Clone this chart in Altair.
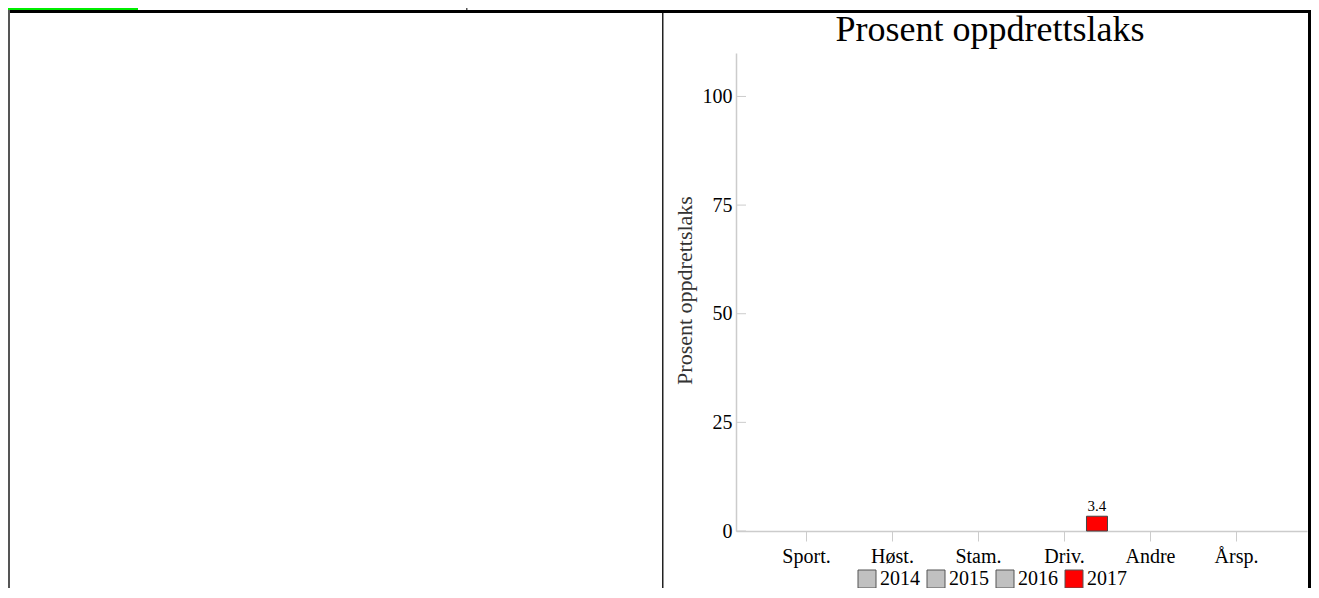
import altair as alt
import pandas as pd

# ---- data ----
categories = ["Sport.", "Høst.", "Stam.", "Driv.", "Andre", "Årsp."]
years = ["2014", "2015", "2016", "2017"]
year_colors = ["#c0c0c0", "#c0c0c0", "#c0c0c0", "#ff0000"]
bar_categories = ["Driv."]
bar_years = ["2017"]
bar_values = [3.4]
y_ticks = [0, 25, 50, 75, 100]
title_text = "Prosent oppdrettslaks"

FONT = "Liberation Serif"

bars_df = pd.DataFrame({"Kategori": bar_categories, "År": bar_years, "Prosent": bar_values})
ticks_df = pd.DataFrame({"v": y_ticks})

W, H = 571, 478            # plot area
PL, PT = 728, 45           # plot origin inside the svg
TOTAL_W, TOTAL_H = 1303, 580

x_enc = alt.X("Kategori:N",
              scale=alt.Scale(domain=categories, paddingInner=0, paddingOuter=0.32),
              axis=alt.Axis(title=None, labelAngle=0, labelFont=FONT, labelFontSize=20,
                            labelColor="black", labelPadding=5, tickSize=10,
                            tickColor="#cccccc", domainColor="#cccccc", domainWidth=1.5,
                            labelFontWeight="normal"))
y_scale = alt.Scale(domain=[0, 110], nice=False)
y_axis = alt.Axis(values=y_ticks, ticks=False, grid=False, labelFont=FONT, labelFontSize=20,
                  labelColor="black", labelPadding=4, domainColor="#cccccc", domainWidth=1.5,
                  title=title_text, titleFont=FONT, titleFontSize=22, titleFontWeight="normal",
                  titleColor="#333333", titleX=-45, titleY=237, titleAngle=270,
                  titleBaseline="alphabetic", titleAlign="center")

bars = alt.Chart(bars_df).mark_bar(stroke="#444444", strokeWidth=1).encode(
    x=x_enc,
    xOffset=alt.XOffset("År:N", scale=alt.Scale(domain=years, paddingInner=0.03)),
    y=alt.Y("Prosent:Q", scale=y_scale, axis=y_axis),
    color=alt.Color("År:N",
                    scale=alt.Scale(domain=years, range=year_colors),
                    legend=alt.Legend(title=None, orient="none", direction="horizontal",
                                      legendX=121, legendY=516, symbolType="square",
                                      symbolSize=324, symbolStrokeColor="#555555",
                                      symbolStrokeWidth=1, symbolOpacity=1,
                                      labelFont=FONT, labelFontSize=20, labelColor="black",
                                      labelOffset=3, columnPadding=5, padding=0)),
)

labels = alt.Chart(bars_df).mark_text(font=FONT, fontSize=15, color="black",
                                      baseline="alphabetic", dy=-5).encode(
    x=alt.X("Kategori:N", scale=alt.Scale(domain=categories, paddingInner=0, paddingOuter=0.32)),
    xOffset=alt.XOffset("År:N", scale=alt.Scale(domain=years, paddingInner=0.03)),
    y=alt.Y("Prosent:Q", scale=y_scale),
    text=alt.Text("Prosent:Q", format=".1f"),
)

yticks = alt.Chart(ticks_df).mark_rule(color="#cccccc", strokeWidth=1).encode(
    y=alt.Y("v:Q", scale=y_scale),
    x=alt.value(0),
    x2=alt.value(10),
)

one = alt.Data(values=[{"k": 1}])

title = alt.Chart(alt.Data(values=[{"t": title_text}])).mark_text(
    font=FONT, fontSize=36, color="black", align="center", baseline="alphabetic"
).encode(text="t:N", x=alt.value(990 - 8 - PL), y=alt.value(41 - 8 - PT))


def rect(x1, x2, y1, y2, color):
    return alt.Chart(one).mark_rect(color=color).encode(
        x=alt.value(x1 - PL), x2=alt.value(x2 - PL),
        y=alt.value(y1 - PT), y2=alt.value(y2 - PT))


frame = [
    rect(0, 130, 0, 2, "#00ee00"),            # green top-left cell
    rect(458, 459.5, 0, 2, "#555555"),        # small divider in top row
    rect(0, TOTAL_W, 2, 5, "#000000"),        # thick top line
    rect(0, 2, 2, TOTAL_H, "#555555"),        # left border
    rect(654, 655.5, 5, TOTAL_H, "#222222"),  # middle divider
    rect(TOTAL_W - 3, TOTAL_W, 2, TOTAL_H, "#000000"),  # right border
]

chart = alt.layer(*frame, title, yticks, bars, labels).properties(
    width=W,
    height=H,
    padding={"left": PL, "top": PT, "right": TOTAL_W - PL - W, "bottom": TOTAL_H - PT - H},
    autosize=alt.AutoSizeParams(type="none"),
    background="white",
).configure_view(stroke=None)

chart.save("out.html", embed_options={"renderer": "svg", "actions": False})
